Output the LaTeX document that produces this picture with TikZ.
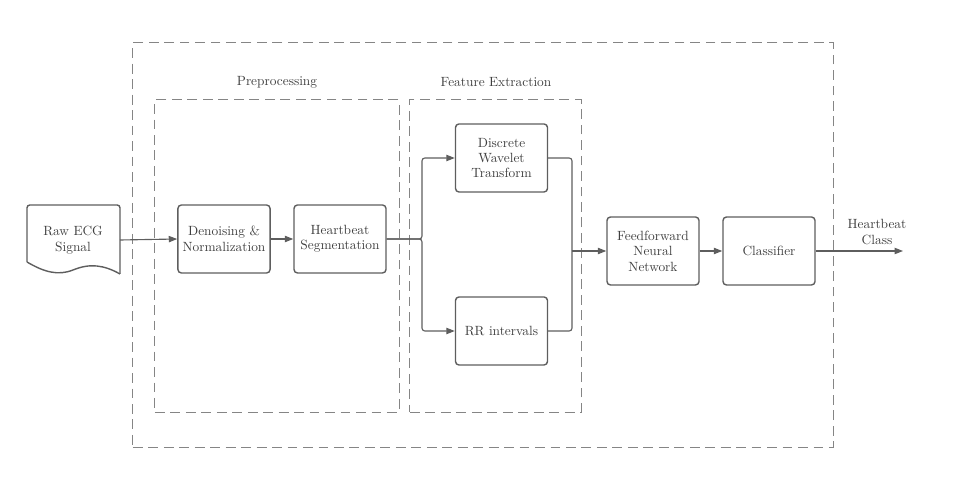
\documentclass[tikz,border=0pt]{standalone}
\usepackage{xcolor}
\usepackage{tikz}
\usetikzlibrary{arrows.meta,positioning}
\definecolor{linegray}{HTML}{5E5E5E}
\definecolor{dashgray}{HTML}{858585}
\definecolor{textgray}{HTML}{3F3F3F}
\tikzset{
    block/.style = {rectangle, rounded corners=2.5pt, minimum width=2.3cm, minimum height=1.7cm, align=center, draw=linegray, line width=1pt, text=textgray, font=\fontsize{9.5}{11}\selectfont},
    stage/.style = {rectangle, draw=dashgray, line width=0.7pt, dash pattern=on 7pt off 4pt},
    stagelabel/.style = {text=textgray, font=\fontsize{9.5}{11}\selectfont},
    flow/.style = {draw=linegray, line width=0.8pt, rounded corners=2pt, -{Triangle[length=6pt,width=4.5pt]}},
    link/.style = {draw=linegray, line width=0.8pt, rounded corners=2pt}
}

\begin{document}
\begin{tikzpicture}[x=0.025cm, y=-0.025cm]
    \useasboundingbox (0,0) rectangle (956,490);

    % dashed groups
    \node [stage, minimum width=17.5cm, minimum height=10.1cm] (system) at (483,245) {};
    \node [stage, minimum width=6.1cm, minimum height=7.8cm] (prep) at (277,256) {};
    \node [stage, minimum width=4.275cm, minimum height=7.8cm] (feat) at (495.5,256) {};
    \node [stagelabel] (preplabel) at (277,82) {Preprocessing};
    \node [stagelabel] (featlabel) at (496,82) {Feature Extraction};

    % input document
    \draw [linegray, line width=1pt, rounded corners=2pt] (27,262) -- (27,205) -- (120,205) -- (120,274);
    \draw [linegray, line width=1pt] (120,274) .. controls (104,265) and (90,263) .. (73,270) .. controls (58,276) and (44,272) .. (27,262);
    \node [stagelabel, align=center] (raw) at (73,240) {Raw ECG\\Signal};
    \coordinate (rawout) at (120,240);

    % blocks
    \node [block] (denoise) at (224,239) {Denoising \&\\Normalization};
    \node [block] (segment) at (340,239) {Heartbeat\\Segmentation};
    \node [block] (dwt) at (501.5,158) {Discrete\\Wavelet\\Transform};
    \node [block] (rr) at (501.5,331) {RR intervals};
    \node [block] (ffnn) at (653,251) {Feedforward\\Neural\\Network};
    \node [block] (classifier) at (769,251) {Classifier};

    \coordinate (split) at (422,239);
    \coordinate (merge) at (572,251);
    \coordinate (output) at (903,251);
    \node [stagelabel, align=center] (outlabel) at (877,232) {Heartbeat\\Class};

    % connectors
    \draw [flow] (rawout) -- (denoise.west);
    \draw [flow] (denoise) -- (segment);
    \draw [flow] (segment.east) -- (split) |- (dwt.west);
    \draw [flow] (segment.east) -- (split) |- (rr.west);
    \draw [link] (dwt.east) -| (merge);
    \draw [link] (rr.east) -| (merge);
    \draw [flow] (merge) -- (ffnn.west);
    \draw [flow] (ffnn) -- (classifier);
    \draw [flow] (classifier) -- (output);
\end{tikzpicture}
\end{document}
